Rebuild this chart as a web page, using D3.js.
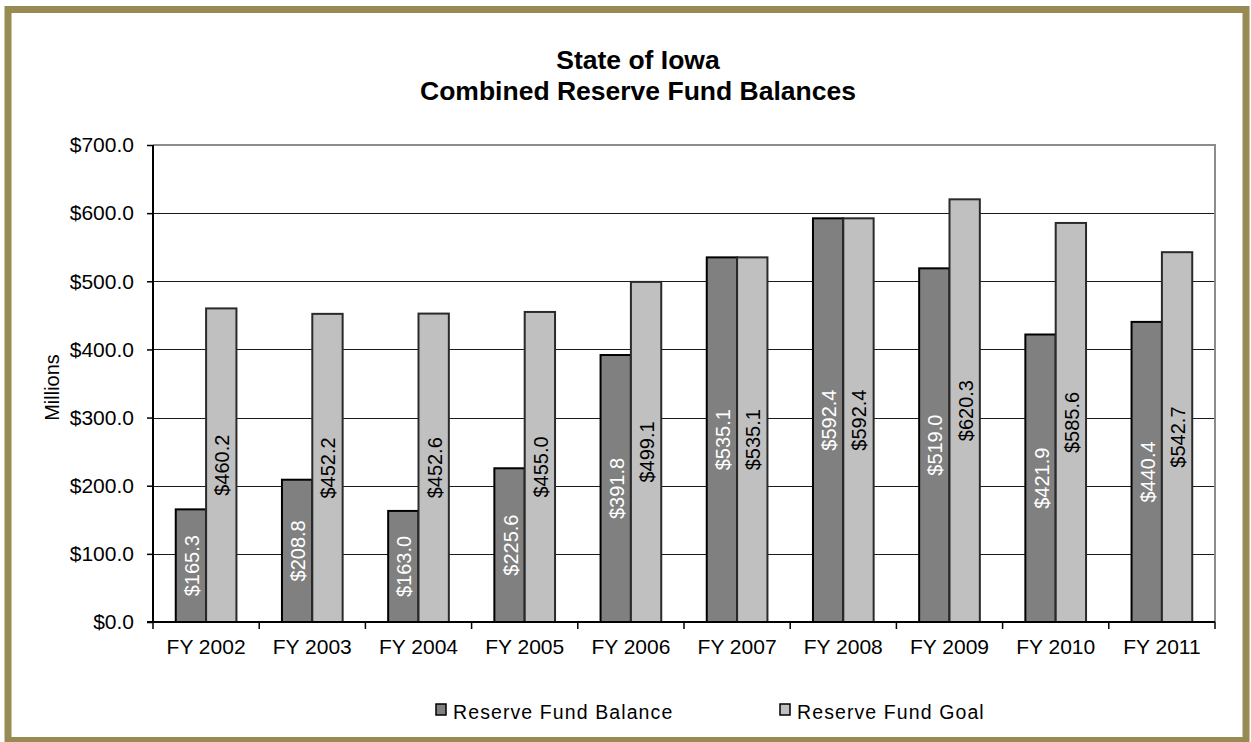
<!DOCTYPE html>
<html>
<head>
<meta charset="utf-8">
<script src="https://cdn.jsdelivr.net/npm/d3@7"></script>
<style>
  html, body { margin: 0; padding: 0; background: #ffffff; }
  svg { display: block; font-family: "Liberation Sans", Arial, sans-serif; }
</style>
</head>
<body>
<svg id="chart" width="1251" height="742"></svg>
<script>
const titleLines = ["State of Iowa", "Combined Reserve Fund Balances"];
const categories = ["FY 2002", "FY 2003", "FY 2004", "FY 2005", "FY 2006", "FY 2007", "FY 2008", "FY 2009", "FY 2010", "FY 2011"];
const seriesNames = ["Reserve Fund Balance", "Reserve Fund Goal"];
const balanceValues = [165.3, 208.8, 163.0, 225.6, 391.8, 535.1, 592.4, 519.0, 421.9, 440.4];
const goalValues = [460.2, 452.2, 452.6, 455.0, 499.1, 535.1, 592.4, 620.3, 585.6, 542.7];
const yTicks = [0, 100, 200, 300, 400, 500, 600, 700];
const yAxisLabel = "Millions";

const series = [
  { name: seriesNames[0], values: balanceValues, fill: "#808080", stroke: "#000000", label: "#ffffff" },
  { name: seriesNames[1], values: goalValues, fill: "#c0c0c0", stroke: "#2a2a2a", label: "#000000" }
];

const svg = d3.select("#chart");
const W = 1251, H = 742;
const margin = { left: 153, right: 1215, top: 145, bottom: 622 };

// outer frame
svg.append("rect").attr("x", 0).attr("y", 0).attr("width", W).attr("height", H).attr("fill", "#ffffff");
svg.append("rect")
  .attr("x", 8).attr("y", 9.5).attr("width", 1238).attr("height", 731)
  .attr("fill", "#ffffff").attr("stroke", "#978a53").attr("stroke-width", 7);

// title
const title = svg.append("text").attr("text-anchor", "middle")
  .attr("font-weight", "bold").attr("font-size", 26.5).attr("fill", "#000");
title.selectAll("tspan").data(titleLines).join("tspan")
  .attr("x", 638).attr("y", (d, i) => 69 + i * 31).text(d => d);

const x = d3.scaleBand().domain(categories).range([margin.left, margin.right]).paddingInner(0).paddingOuter(0);
const bw = x.bandwidth();
const groupW = bw * 2 / 3.5;
const x1 = d3.scaleBand().domain(d3.range(series.length)).range([(bw - groupW) / 2, (bw + groupW) / 2]);
const y = d3.scaleLinear().domain([0, 700]).range([margin.bottom, margin.top]);

// gridlines
svg.append("g").selectAll("line").data(yTicks.filter(t => t > 0 && t < 700)).join("line")
  .attr("x1", margin.left).attr("x2", margin.right)
  .attr("y1", d => Math.round(y(d)) + 0.5).attr("y2", d => Math.round(y(d)) + 0.5)
  .attr("stroke", "#1a1a1a").attr("stroke-width", 1);

// plot area top & right border (gray)
svg.append("path")
  .attr("d", `M${margin.left},${y(700)}H${margin.right}V${margin.bottom}`)
  .attr("fill", "none").attr("stroke", "#8c8c8c").attr("stroke-width", 2);

// bars
const groups = svg.append("g").selectAll("g").data(categories).join("g")
  .attr("transform", d => `translate(${x(d)},0)`);

series.forEach((s, si) => {
  groups.append("rect")
    .attr("x", x1(si))
    .attr("width", x1.bandwidth())
    .attr("y", (d, i) => y(s.values[i]))
    .attr("height", (d, i) => y(0) - y(s.values[i]))
    .attr("fill", s.fill)
    .attr("stroke", s.stroke)
    .attr("stroke-width", 2);
});

// data labels
series.forEach((s, si) => {
  groups.append("text")
    .attr("transform", (d, i) => {
      const cx = x1(si) + x1.bandwidth() / 2 + 1;
      const cy = (y(s.values[i]) + y(0)) / 2;
      return `translate(${cx},${cy}) rotate(-90)`;
    })
    .attr("text-anchor", "middle")
    .attr("dominant-baseline", "central")
    .attr("font-size", 20)
    .attr("fill", s.label)
    .text((d, i) => "$" + d3.format(".1f")(s.values[i]));
});

// y axis
const yAxis = d3.axisLeft(y).tickValues(yTicks).tickSize(6).tickPadding(13)
  .tickFormat(d => "$" + d3.format(".1f")(d));
const gy = svg.append("g").attr("transform", `translate(${margin.left},0)`).call(yAxis);
gy.select(".domain").attr("stroke", "#000").attr("stroke-width", 2).attr("d", `M0,${y(700)}V${y(0)}`);
gy.selectAll(".tick line").attr("stroke", "#000").attr("stroke-width", 1.5);
gy.selectAll(".tick text").attr("font-size", 21).attr("font-family", "Liberation Sans, Arial, sans-serif").attr("fill", "#000");

// x axis
const gx = svg.append("g").attr("transform", `translate(0,${margin.bottom})`);
gx.append("line").attr("x1", margin.left - 6).attr("x2", margin.right)
  .attr("y1", 0).attr("y2", 0).attr("stroke", "#000").attr("stroke-width", 2);
const bounds = categories.map(c => x(c)).concat([margin.right]);
gx.selectAll("line.tk").data(bounds).join("line").attr("class", "tk")
  .attr("x1", d => d).attr("x2", d => d).attr("y1", 0).attr("y2", 7)
  .attr("stroke", "#000").attr("stroke-width", 1.5);
gx.selectAll("text").data(categories).join("text")
  .attr("x", d => x(d) + bw / 2).attr("y", 32)
  .attr("text-anchor", "middle").attr("font-size", 21).attr("fill", "#000")
  .text(d => d);

// y axis title
svg.append("text")
  .attr("transform", `translate(59,${(y(0) + y(700)) / 2 + 4}) rotate(-90)`)
  .attr("text-anchor", "middle").attr("font-size", 20).attr("fill", "#000")
  .text(yAxisLabel);

// legend
const legendX = [436, 780];
const lg = svg.append("g").selectAll("g").data(series).join("g")
  .attr("transform", (d, i) => `translate(${legendX[i]},704)`);
lg.append("rect").attr("x", 0).attr("y", 0).attr("width", 10).attr("height", 11)
  .attr("fill", d => d.fill).attr("stroke", "#000").attr("stroke-width", 1.5);
lg.append("text").attr("x", 17).attr("y", 14.5).attr("font-size", 19.5)
  .attr("letter-spacing", 1.1).attr("fill", "#000").text(d => d.name);
</script>
</body>
</html>
